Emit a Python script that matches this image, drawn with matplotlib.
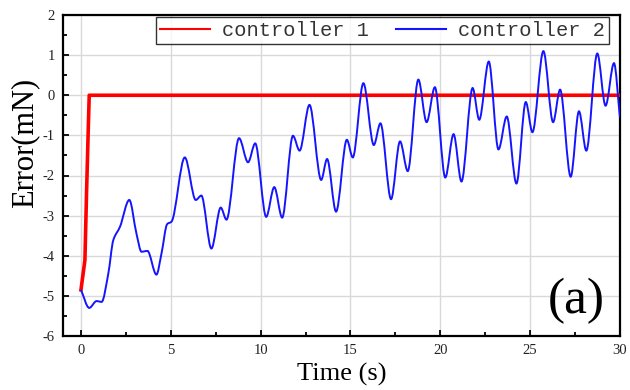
import matplotlib
matplotlib.use('Agg')
import matplotlib.pyplot as plt
import numpy as np
from matplotlib.path import Path
from matplotlib.patches import PathPatch
from matplotlib.lines import Line2D

# controller 1: jumps from the initial error to zero almost immediately
t_ctrl1 = [0.0, 0.22, 0.31, 0.41, 0.46, 30.0]
err_ctrl1 = [-4.85, -4.11, -2.44, -0.78, 0.0, 0.0]

# controller 2: oscillating error (peaks / troughs)
t_ctrl2 = [0.0, 0.46, 0.87, 1.15, 1.52, 1.80, 2.17, 2.69, 3.09, 3.37, 3.70,
           4.20, 4.48, 4.80, 5.04, 5.78, 6.39, 6.70, 7.26, 7.78, 8.10, 8.80,
           9.30, 9.70, 10.31, 10.76, 11.20, 11.80, 12.17, 12.72, 13.37, 13.70,
           14.20, 14.80, 15.13, 15.72, 16.30, 16.67, 17.26, 17.76, 18.19, 18.78,
           19.24, 19.70, 20.28, 20.74, 21.18, 21.80, 22.17, 22.70, 23.24, 23.70,
           24.24, 24.76, 25.13, 25.74, 26.28, 26.67, 27.26, 27.72, 28.13, 28.74,
           29.20, 29.67, 30.0]
err_ctrl2 = [-4.85, -5.30, -5.13, -5.15, -4.45, -3.61, -3.28, -2.61, -3.45, -3.90, -3.88,
             -4.47, -3.95, -3.21, -3.15, -1.55, -2.61, -2.50, -3.82, -2.80, -3.10, -1.07,
             -1.67, -1.20, -3.03, -2.29, -3.05, -1.01, -1.38, -0.24, -2.11, -1.59,
             -2.90, -1.11, -1.55, 0.30, -1.24, -0.70, -2.59, -1.15, -1.89, 0.39,
             -0.67, 0.20, -2.05, -0.97, -2.15, 0.18, -0.61, 0.84, -1.35, -0.53,
             -2.20, -0.17, -0.92, 1.10, -0.67, 0.14, -2.03, -0.40, -1.38, 1.04,
             -0.26, 0.80, -0.55]

RED = '#ff0000'
BLUE = '#1414ff'


def smooth_path(x, y):
    # cubic bezier through the points, flat tangents at peaks/troughs
    x = np.asarray(x, float)
    y = np.asarray(y, float)
    dx = np.diff(x)
    s = np.diff(y) / dx
    m = np.zeros_like(y)
    m[0], m[-1] = s[0], s[-1]
    for i in range(1, len(y) - 1):
        if s[i - 1] * s[i] > 0:
            m[i] = 2.0 / (1.0 / s[i - 1] + 1.0 / s[i])
    verts = [(x[0], y[0])]
    codes = [Path.MOVETO]
    for i in range(len(x) - 1):
        h = dx[i]
        verts += [(x[i] + h / 3, y[i] + m[i] * h / 3),
                  (x[i + 1] - h / 3, y[i + 1] - m[i + 1] * h / 3),
                  (x[i + 1], y[i + 1])]
        codes += [Path.CURVE4] * 3
    return Path(verts, codes)


plt.rcParams['axes.unicode_minus'] = False
serif = 'Liberation Serif'

fig = plt.figure(figsize=(6.3, 3.9), dpi=100)
ax = fig.add_axes([0.1, 0.1385, 0.884, 0.823])

ax.plot(t_ctrl1, err_ctrl1, color=RED, lw=2.6, zorder=3)
ax.add_patch(PathPatch(smooth_path(t_ctrl2, err_ctrl2), fill=False, edgecolor=BLUE,
                       lw=1.4, zorder=4))

ax.set_xlim(-1, 30)
ax.set_ylim(-6, 2)
ax.set_xticks(range(0, 31, 5))
ax.set_yticks(range(-6, 3))
ax.set_xticks([2.5, 7.5, 12.5, 17.5, 22.5, 27.5], minor=True)
ax.set_yticks([-5.5, -4.5, -3.5, -2.5, -1.5, -0.5, 0.5, 1.5], minor=True)
ax.tick_params(which='both', direction='in', width=1.3, colors='black', labelsize=10.5, pad=6)
ax.tick_params(which='major', length=4.5)
ax.tick_params(which='minor', length=3)
for lab in ax.get_xticklabels() + ax.get_yticklabels():
    lab.set_fontfamily(serif)
    lab.set_color('#222222')

ax.grid(True, which='major', color='#d9d9d9', lw=1.0)
ax.set_axisbelow(True)
for sp in ax.spines.values():
    sp.set_linewidth(1.6)
    sp.set_color('black')

ax.set_xlabel('Time (s)', fontfamily=serif, fontsize=19, labelpad=4)
ax.set_ylabel('Error(mN)', fontfamily=serif, fontsize=22)
ax.yaxis.set_label_coords(-0.043, 0.60)

ax.text(0.973, 0.108, '(a)', transform=ax.transAxes, ha='right', va='center',
        fontfamily=serif, fontsize=37)

handles = [Line2D([], [], color=RED, lw=1.5), Line2D([], [], color=BLUE, lw=1.5)]
leg = ax.legend(handles, ['controller 1', 'controller 2'], loc='upper right',
                bbox_to_anchor=(0.980, 0.995), ncol=2, borderaxespad=0,
                prop={'family': 'Liberation Mono', 'size': 14.7}, frameon=True, fancybox=False,
                edgecolor='black', borderpad=0.2, handlelength=2.45, handletextpad=0.59,
                columnspacing=1.32)
leg.get_frame().set_linewidth(1.0)
for txt in leg.get_texts():
    txt.set_color('#333333')

fig.savefig('out.png', dpi=100)
